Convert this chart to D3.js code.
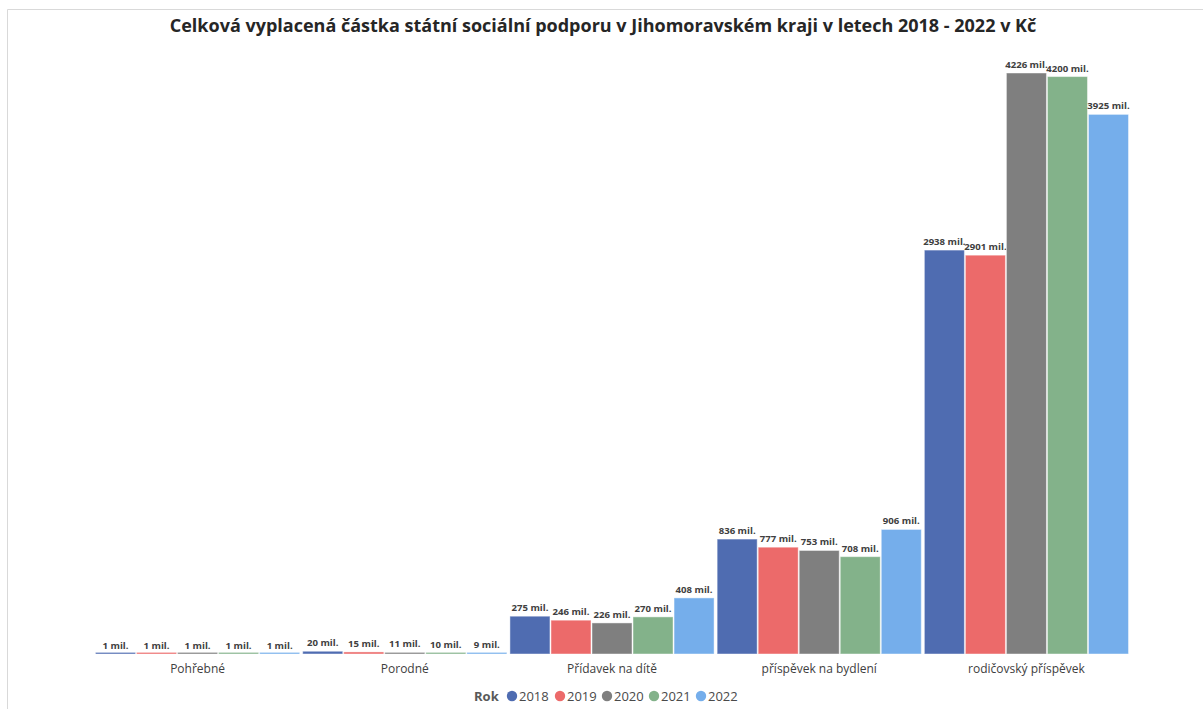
<!DOCTYPE html>
<html><head><meta charset="utf-8">
<script src="https://cdn.jsdelivr.net/npm/d3@7/dist/d3.min.js"></script>
<style>
body{margin:0;background:#fff;}
svg{display:block;font-family:"Open Sans","Noto Sans",sans-serif;}
</style></head><body>
<svg id="c" width="1203" height="709"></svg>
<script>
const categories = ["Pohřebné","Porodné","Přídavek na dítě","příspěvek na bydlení","rodičovský příspěvek"];
const years = ["2018","2019","2020","2021","2022"];
const v2018 = [1, 20, 275, 836, 2938];
const v2019 = [1, 15, 246, 777, 2901];
const v2020 = [1, 11, 226, 753, 4226];
const v2021 = [1, 10, 270, 708, 4200];
const v2022 = [1, 9, 408, 906, 3925];
const series = [v2018, v2019, v2020, v2021, v2022];
const colors = ["#4F6CB1","#EC6A6A","#7F7F7F","#83B28A","#75AEEB"];
const title = "Celková vyplacená částka státní sociální podporu v Jihomoravském kraji v letech 2018 - 2022 v Kč";

const svg = d3.select("#c");
// frame
svg.append("path").attr("d","M7.5,709 L7.5,9.5 L1203,9.5").attr("fill","none").attr("stroke","#d9d9d9").attr("stroke-width",1);

svg.append("text").attr("x",603).attr("y",32).attr("text-anchor","middle")
  .attr("font-size",18).attr("font-weight","bold").attr("fill","#262626").text(title);

const x0 = d3.scaleBand().domain(categories).range([95,1129]).paddingInner(0.01).paddingOuter(0);
const x1 = d3.scaleBand().domain(years).range([0,x0.bandwidth()]).padding(0);
const y = d3.scaleLinear().domain([0,4226]).range([654,73]);

const g = svg.append("g");
categories.forEach((c,ci)=>{
  years.forEach((yr,yi)=>{
    const v = series[yi][ci];
    const bx = x0(c)+x1(yr);
    const h = Math.max(y(0)-y(v), 1.6);
    g.append("rect").attr("x",bx+0.5).attr("y",y(0)-h).attr("width",x1.bandwidth()-1).attr("height",h)
      .attr("fill",colors[yi]).attr("stroke","#ffffff").attr("stroke-opacity",0.45).attr("stroke-width",1);
    g.append("text").attr("x",bx+x1.bandwidth()/2).attr("y",y(v)-5).attr("text-anchor","middle")
      .attr("font-size",9.6).attr("font-weight","bold").attr("fill","#404040").text(v+" mil.");
  });
});

// category labels
const xAxis = d3.axisBottom(x0).tickSize(0).tickPadding(8);
const ax = svg.append("g").attr("transform","translate(0,656)").call(xAxis);
ax.select(".domain").remove();
ax.selectAll("text").attr("font-size",12).attr("fill","#404040").attr("font-family","'Open Sans','Noto Sans',sans-serif");

// legend
const lg = svg.append("g").attr("transform","translate(0,696)");
lg.append("text").attr("x",474).attr("y",4.5).attr("font-size",13).attr("font-weight","bold").attr("fill","#595959").text("Rok");
const lx = [512,560,607,654,701];
years.forEach((yr,i)=>{
  lg.append("circle").attr("cx",lx[i]).attr("cy",0).attr("r",5.2).attr("fill",colors[i]);
  lg.append("text").attr("x",lx[i]+7).attr("y",4.5).attr("font-size",13).attr("fill","#4a4a4a").text(yr);
});
</script>
</body></html>
